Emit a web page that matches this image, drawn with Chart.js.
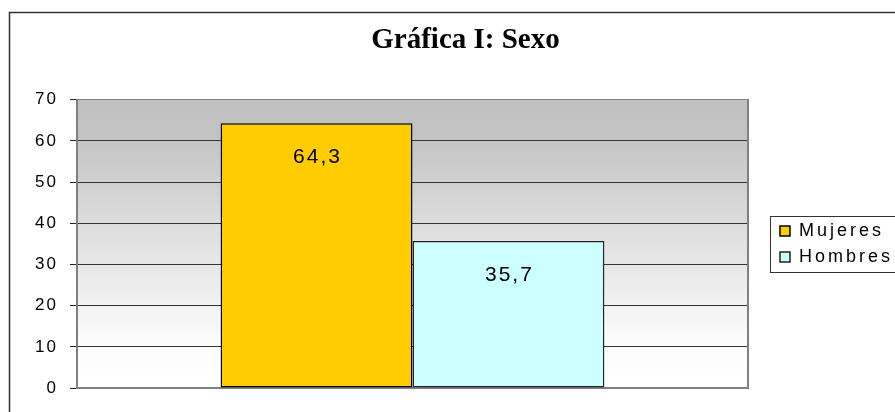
<!DOCTYPE html>
<html lang="es">
<head>
<meta charset="UTF-8">
<title>Gráfica I: Sexo</title>
<script src="https://cdn.jsdelivr.net/npm/chart.js"></script>
<style>
  body { margin: 0; background: #fff; }
  canvas { display: block; }
</style>
</head>
<body>
<canvas id="grafica" width="895" height="412"></canvas>
<script>
const categorias = [''];
const mujeres = [64.3];
const hombres = [35.7];
const yMin = 0, yMax = 70, yPaso = 10;

const sans = "'Liberation Sans', Arial, sans-serif";
const coma = v => String(v).replace('.', ',');

// Excel spreads its letters out; canvas letterSpacing gets close
const espaciado = {
    id: 'espaciado',
    afterInit(chart) {
        const wrap = (box, sp, dx) => {
            const draw = box.draw.bind(box);
            box.draw = area => {
                chart.ctx.save();
                chart.ctx.letterSpacing = sp;
                chart.ctx.translate(dx, 0);
                draw(area);
                chart.ctx.restore();
            };
        };
        wrap(chart.titleBlock, '0px', 9);
        wrap(chart.legend, '3px', 0);
    },
    beforeLayout(chart) {
        chart.ctx.letterSpacing = '3px';
    },
    beforeDraw(chart) {
        const {ctx, chartArea: a} = chart;
        // outer frame
        ctx.save();
        ctx.strokeStyle = '#333';
        ctx.lineWidth = 1.5;
        ctx.beginPath();
        ctx.moveTo(9.5, 420);
        ctx.lineTo(9.5, 12.5);
        ctx.lineTo(900, 12.5);
        ctx.stroke();
        // plot area gradient
        const g = ctx.createLinearGradient(0, a.top, 0, a.bottom);
        g.addColorStop(0, '#c0c0c0');
        g.addColorStop(0.12, '#c3c3c3');
        g.addColorStop(0.5, '#e2e2e2');
        g.addColorStop(0.85, '#fcfcfc');
        g.addColorStop(1, '#ffffff');
        ctx.fillStyle = g;
        ctx.fillRect(a.left, a.top, a.right - a.left, a.bottom - a.top);
        ctx.restore();
        ctx.letterSpacing = '2px';
    },
    afterDatasetsDraw(chart) {
        const ctx = chart.ctx;
        ctx.save();
        ctx.font = '21px ' + sans;
        ctx.fillStyle = '#000';
        ctx.textAlign = 'center';
        ctx.textBaseline = 'middle';
        chart.data.datasets.forEach((ds, i) => {
            chart.getDatasetMeta(i).data.forEach((bar, j) => {
                ctx.fillText(coma(ds.data[j]), bar.x + 1, bar.y + 34);
            });
        });
        ctx.restore();
    },
    afterDraw(chart) {
        const {ctx, legend} = chart;
        const hb = legend.legendHitBoxes;
        if (!hb || !hb.length) return;
        const top = hb[0].top - 6;
        const bottom = hb[hb.length - 1].top + hb[hb.length - 1].height + 6;
        ctx.save();
        ctx.strokeStyle = '#333';
        ctx.lineWidth = 1;
        ctx.strokeRect(legend.left - 1.5, Math.round(top) + 0.5, 200, Math.round(bottom - top));
        ctx.restore();
    }
};

new Chart(document.getElementById('grafica'), {
    type: 'bar',
    data: {
        labels: categorias,
        datasets: [{
            label: 'Mujeres',
            data: mujeres,
            backgroundColor: '#ffcc00',
            borderColor: '#000',
            borderWidth: 1.5,
            borderSkipped: false
        }, {
            label: 'Hombres',
            data: hombres,
            backgroundColor: '#ccffff',
            borderColor: '#222',
            borderWidth: 1.5,
            borderSkipped: false
        }]
    },
    options: {
        responsive: false,
        animation: false,
        events: [],
        categoryPercentage: 0.572,
        barPercentage: 1,
        layout: { padding: { left: 10, right: -8, top: 0, bottom: 24 } },
        plugins: {
            tooltip: { enabled: false },
            title: {
                display: true,
                text: 'Gráfica I: Sexo',
                color: '#000',
                font: { family: "'Liberation Serif', 'Times New Roman', serif", size: 29, weight: 'bold' },
                padding: { top: 23, bottom: 42 }
            },
            legend: {
                position: 'right',
                fullSize: false,
                align: 'center',
                labels: {
                    boxWidth: 10,
                    boxHeight: 10,
                    padding: 8,
                    color: '#000',
                    font: { family: sans, size: 18 }
                }
            }
        },
        scales: {
            x: {
                ticks: { display: false },
                grid: { display: false },
                border: { color: '#808080', width: 2 },
                afterFit: s => { s.height = 0; }
            },
            y: {
                min: yMin,
                max: yMax,
                ticks: { stepSize: yPaso, color: '#000', padding: 12, font: { family: sans, size: 17 } },
                grid: {
                    color: c => c.tick && c.tick.value === yMax ? '#808080' : '#333',
                    lineWidth: 1,
                    tickLength: 7,
                    tickColor: '#222'
                },
                border: { color: '#808080', width: 2 },
                afterFit: s => { s.width = 67; }
            },
            borde: {
                position: 'right',
                ticks: { display: false },
                grid: { display: false },
                border: { color: '#808080', width: 2 },
                afterFit: s => { s.width = 24; }
            }
        }
    },
    plugins: [espaciado]
});
</script>
</body>
</html>
